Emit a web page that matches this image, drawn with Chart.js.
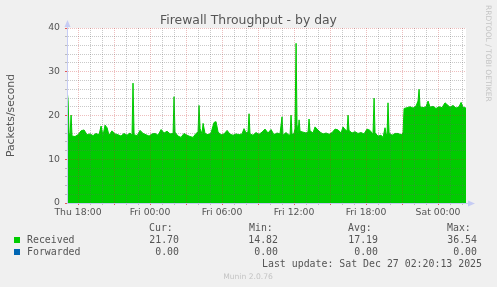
<!DOCTYPE html>
<html lang="en">
<head>
  <meta charset="UTF-8">
  <title>Firewall Throughput - by day</title>
  <script src="https://cdn.jsdelivr.net/npm/chart.js"></script>
  <style>
    html, body { margin: 0; padding: 0; background: #f0f0f0; }
    #chart { display: block; }
  </style>
</head>
<body>
<canvas id="chart" width="497" height="287"></canvas>
<script>
  // x values are hours counted from Thu 18:00
  var hours = [
    -0.92, -0.83, -0.75, -0.67, -0.58, -0.5, -0.25, 0, 0.25, 0.5, 0.75, 1.0, 1.25, 1.5, 1.75, 1.92,
    2.08, 2.25, 2.42, 2.58, 2.83, 3.08, 3.33, 3.58, 3.83, 4.08, 4.33, 4.5, 4.58, 4.67, 4.92, 5.17,
    5.42, 5.67, 5.92, 6.17, 6.42, 6.67, 6.92, 7.17, 7.42, 7.67, 7.92, 8.0, 8.08, 8.33, 8.58, 8.83,
    9.08, 9.33, 9.58, 9.83, 10.0, 10.08, 10.17, 10.33, 10.42, 10.58, 10.83, 11.08, 11.33, 11.5, 11.67, 11.92,
    12.17, 12.42, 12.67, 12.92, 13.17, 13.42, 13.67, 13.83, 14.0, 14.17, 14.25, 14.33, 14.58, 14.83, 15.08, 15.33,
    15.58, 15.83, 16.08, 16.33, 16.58, 16.83, 17.0, 17.08, 17.33, 17.58, 17.67, 17.75, 17.83, 18.0, 18.08, 18.17,
    18.25, 18.33, 18.42, 18.5, 18.75, 19.0, 19.17, 19.25, 19.33, 19.58, 19.75, 19.92, 20.17, 20.42, 20.67, 20.92,
    21.17, 21.42, 21.67, 21.92, 22.08, 22.25, 22.42, 22.5, 22.58, 22.83, 23.08, 23.33, 23.58, 23.83, 24.08, 24.33,
    24.58, 24.67, 24.75, 25.0, 25.25, 25.42, 25.58, 25.67, 25.75, 25.83, 25.92, 26.17, 26.42, 26.67, 26.92, 27.08,
    27.17, 27.42, 27.67, 27.92, 28.17, 28.33, 28.42, 28.5, 28.75, 29.0, 29.17, 29.33, 29.58, 29.83, 30.08, 30.33,
    30.58, 30.75, 31.0, 31.25, 31.5, 31.75, 31.92, 32.08, 32.33
  ];
  var received = [
    26.0, 23.5, 16.0, 15.5, 20.1, 15.3, 15.2, 15.6, 16.5, 16.7, 15.6, 15.8, 15.4, 15.9, 15.6, 17.6,
    15.4, 17.8, 17.2, 15.5, 16.5, 15.8, 15.6, 15.3, 15.9, 15.5, 16.0, 15.5, 27.4, 15.6, 15.4, 16.6,
    15.9, 15.6, 15.3, 15.8, 15.9, 15.5, 16.8, 16.0, 16.4, 15.8, 15.9, 24.3, 16.2, 15.3, 15.0, 15.9,
    15.5, 15.2, 15.0, 15.9, 16.2, 22.3, 17.0, 15.8, 18.2, 15.9, 15.6, 16.0, 18.4, 18.6, 16.2, 15.6,
    15.8, 16.6, 15.7, 15.5, 15.8, 15.6, 15.8, 17.0, 16.0, 16.3, 20.4, 15.8, 15.5, 16.1, 15.7, 16.2,
    16.9, 16.0, 16.8, 15.6, 16.0, 15.8, 19.7, 15.5, 16.1, 15.5, 15.6, 20.1, 15.6, 15.9, 17.0, 36.5,
    18.0, 16.0, 19.0, 16.4, 16.2, 16.0, 16.3, 19.2, 16.5, 16.0, 17.4, 16.9, 16.2, 15.8, 16.0, 15.7,
    16.1, 16.9, 16.7, 16.0, 17.4, 16.8, 16.4, 20.1, 16.6, 16.0, 16.3, 15.9, 16.1, 15.8, 16.9, 16.6,
    15.7, 24.0, 16.0, 15.3, 15.5, 15.0, 17.2, 15.8, 15.5, 22.9, 16.0, 15.5, 15.9, 15.9, 15.6, 16.0,
    21.6, 21.8, 22.0, 21.7, 22.2, 23.3, 26.0, 22.0, 21.8, 22.0, 23.3, 21.9, 22.1, 21.6, 22.0, 21.8,
    22.9, 22.5, 21.9, 22.3, 21.7, 22.0, 23.0, 21.9, 21.7
  ];
  var forwardedHours = [-0.92, 32.33];
  var forwarded = [0, 0];

  var tickHours = [0, 6, 12, 18, 24, 30];
  var tickLabels = ['Thu 18:00', 'Fri 00:00', 'Fri 06:00', 'Fri 12:00', 'Fri 18:00', 'Sat 00:00'];

  var seriesNames = ['Received', 'Forwarded'];
  var seriesColors = ['#00cc00', '#0066b3'];
  var statHeads = ['Cur:', 'Min:', 'Avg:', 'Max:'];
  var statCur = ['21.70', '0.00'];
  var statMin = ['14.82', '0.00'];
  var statAvg = ['17.19', '0.00'];
  var statMax = ['36.54', '0.00'];
  var lastUpdate = 'Last update: Sat Dec 27 02:20:13 2025';

  var textColor = '#555555';
  var axisColor = '#c6ccf4';
  var majorGrid = 'rgba(200,40,40,0.3)';
  var minorGrid = 'rgba(100,100,100,0.35)';

  function pairs(xs, ys) {
    return ys.map(function(v, i) { return { x: xs[i], y: v }; });
  }

  var munin = {
    id: 'munin',
    beforeDraw: function(chart) {
      var ctx = chart.ctx, a = chart.chartArea;
      ctx.save();
      ctx.fillStyle = '#f0f0f0';
      ctx.fillRect(0, 0, chart.width, chart.height);
      ctx.fillStyle = '#ffffff';
      ctx.fillRect(a.left, a.top, a.right - a.left, a.bottom - a.top);
      ctx.restore();
    },
    afterDraw: function(chart) {
      var ctx = chart.ctx, a = chart.chartArea;
      ctx.save();

      // axis arrows
      ctx.fillStyle = axisColor;
      ctx.strokeStyle = axisColor;
      ctx.lineWidth = 1;
      ctx.beginPath();
      ctx.moveTo(a.left + 0.5, a.top);
      ctx.lineTo(a.left + 0.5, a.top - 2);
      ctx.moveTo(a.right, a.bottom + 0.5);
      ctx.lineTo(a.right + 3, a.bottom + 0.5);
      ctx.stroke();
      ctx.beginPath();
      ctx.moveTo(a.left + 0.5, a.top - 8);
      ctx.lineTo(a.left - 2.5, a.top - 1);
      ctx.lineTo(a.left + 3.5, a.top - 1);
      ctx.closePath();
      ctx.fill();
      ctx.beginPath();
      ctx.moveTo(a.right + 9, a.bottom + 0.5);
      ctx.lineTo(a.right + 2, a.bottom - 2.5);
      ctx.lineTo(a.right + 2, a.bottom + 3.5);
      ctx.closePath();
      ctx.fill();

      // title
      ctx.fillStyle = textColor;
      ctx.font = '12.4px "DejaVu Sans"';
      ctx.textAlign = 'center';
      ctx.textBaseline = 'alphabetic';
      ctx.fillText('Firewall Throughput - by day', 248.5, 24);

      // legend table
      ctx.font = '9.9px "DejaVu Sans Mono"';
      ctx.textAlign = 'left';
      var headX = [149, 249, 348, 447];
      statHeads.forEach(function(h, i) { ctx.fillText(h, headX[i], 231); });
      var rowY = [243, 255];
      var valX = [179, 278, 378, 477];
      seriesNames.forEach(function(name, i) {
        ctx.fillStyle = seriesColors[i];
        ctx.fillRect(14, rowY[i] - 6, 6, 6);
        ctx.fillStyle = textColor;
        ctx.textAlign = 'left';
        ctx.fillText(name, 27, rowY[i]);
        ctx.textAlign = 'right';
        [statCur, statMin, statAvg, statMax].forEach(function(col, j) {
          ctx.fillText(col[i], valX[j], rowY[i]);
        });
      });
      ctx.textAlign = 'right';
      ctx.fillText(lastUpdate, 482, 266.5);

      // footer and side credit
      ctx.fillStyle = '#c4c4c4';
      ctx.font = '7.6px "DejaVu Sans"';
      ctx.textAlign = 'center';
      ctx.fillText('Munin 2.0.76', 248, 279);
      ctx.translate(487.5, 5);
      ctx.rotate(Math.PI / 2);
      ctx.textAlign = 'left';
      ctx.textBaseline = 'middle';
      ctx.font = '7.5px "DejaVu Sans"';
      ctx.fillText('RRDTOOL / TOBI OETIKER', 0, 0);
      ctx.restore();
    }
  };

  new Chart(document.getElementById('chart'), {
    type: 'line',
    data: {
      datasets: [{
        label: seriesNames[0],
        data: pairs(hours, received),
        borderColor: seriesColors[0],
        backgroundColor: seriesColors[0],
        borderWidth: 1,
        pointRadius: 0,
        fill: 'origin',
        tension: 0
      }, {
        label: seriesNames[1],
        data: pairs(forwardedHours, forwarded),
        borderColor: 'rgba(0,0,0,0)',
        backgroundColor: seriesColors[1],
        borderWidth: 1,
        pointRadius: 0,
        fill: false
      }]
    },
    options: {
      responsive: false,
      animation: false,
      devicePixelRatio: 1,
      layout: { padding: { left: 0, right: 31, top: 28, bottom: 0 } },
      plugins: {
        legend: { display: false },
        title: { display: false },
        tooltip: { enabled: false }
      },
      scales: {
        x: {
          type: 'linear',
          min: -0.92,
          max: 32.33,
          afterFit: function(s) { s.height = 84; },
          afterBuildTicks: function(s) {
            var t = [];
            for (var h = 0; h <= 32; h++) t.push({ value: h });
            s.ticks = t;
          },
          grid: {
            z: 1,
            lineWidth: 1,
            tickLength: 2,
            color: function(c) { return c.tick && c.tick.value % 3 === 0 ? majorGrid : minorGrid; },
            tickColor: function(c) { return c.tick && c.tick.value % 3 === 0 ? 'rgba(220,50,50,0.8)' : '#bbbbbb'; }
          },
          border: { display: true, color: axisColor, width: 1, z: 2, dash: [1, 1] },
          ticks: {
            autoSkip: false,
            maxRotation: 0,
            padding: 2,
            color: textColor,
            font: { family: 'DejaVu Sans', size: 9.3 },
            callback: function(v) {
              var i = tickHours.indexOf(v);
              return i >= 0 ? tickLabels[i] : '';
            }
          }
        },
        y: {
          min: 0,
          max: 40,
          afterFit: function(s) { s.width = 67; },
          afterBuildTicks: function(s) {
            var t = [];
            for (var v = 0; v <= 40; v += 2) t.push({ value: v });
            s.ticks = t;
          },
          grid: {
            z: 1,
            lineWidth: 1,
            tickLength: 2,
            color: function(c) { return c.tick && c.tick.value % 10 === 0 ? majorGrid : minorGrid; },
            tickColor: function(c) { return c.tick && c.tick.value % 10 === 0 ? 'rgba(220,50,50,0.8)' : '#bbbbbb'; }
          },
          border: { display: true, color: axisColor, width: 1, z: 2, dash: [1, 1] },
          ticks: {
            autoSkip: false,
            padding: 5,
            color: textColor,
            font: { family: 'DejaVu Sans', size: 9.3 },
            callback: function(v) { return v % 10 === 0 ? String(v) : ''; }
          },
          title: {
            display: true,
            text: 'Packets/second',
            color: textColor,
            font: { family: 'DejaVu Sans', size: 10.8 },
            padding: { top: 4.5, bottom: 0 }
          }
        }
      }
    },
    plugins: [munin]
  });
</script>
</body>
</html>
